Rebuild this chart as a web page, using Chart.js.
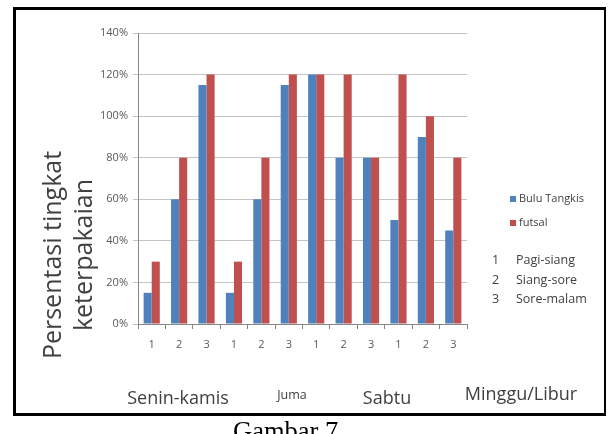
<!DOCTYPE html>
<html>
<head>
<meta charset="utf-8">
<script src="https://cdn.jsdelivr.net/npm/chart.js@4/dist/chart.umd.min.js"></script>
<style>
  html, body { margin:0; padding:0; background:#fff; }
  body { width:611px; height:434px; position:relative; overflow:hidden; font-family:"Open Sans", sans-serif; }
  #c { position:absolute; left:0; top:0; }
  .frame { position:absolute; left:13px; top:7px; width:588px; height:403px; border:3px solid #000; border-right-width:2px; }
  .t { position:absolute; white-space:nowrap; color:#404040; line-height:1; }
  .ytitle { position:absolute; left:67px; top:255px; transform:translate(-50%,-50%) rotate(-90deg); text-align:center; font-size:25px; line-height:31px; color:#404040; white-space:nowrap; }
  .sq { position:absolute; width:6px; height:6px; }
  .cap { position:absolute; left:233px; top:418px; font-family:"Liberation Serif", serif; font-size:26.5px; line-height:1; color:#000; white-space:nowrap; }
</style>
</head>
<body>
<canvas id="c" width="611" height="434"></canvas>
<div class="frame"></div>
<div id="overlay"></div>
<script>
// ---- data ----
const categories = ["1","2","3","1","2","3","1","2","3","1","2","3"];
const seriesNames = ["Bulu Tangkis", "futsal"];
const buluTangkis = [15, 60, 115, 15, 60, 115, 120, 80, 80, 50, 90, 45];
const futsal      = [30, 80, 120, 30, 80, 120, 120, 120, 80, 120, 100, 80];
const yTicks = [0, 20, 40, 60, 80, 100, 120, 140];
const groupLabels = ["Senin-kamis", "Juma", "Sabtu", "Minggu/Libur"];
const keyNumbers = ["1", "2", "3"];
const keyLabels = ["Pagi-siang", "Siang-sore", "Sore-malam"];
const yTitleLines = ["Persentasi tingkat", "keterpakaian"];
const caption = "Gambar 7";

const colors = ["#4F81BD", "#C0504D"];

new Chart(document.getElementById('c'), {
  type: 'bar',
  data: {
    labels: categories,
    datasets: [
      { label: seriesNames[0], data: buluTangkis, backgroundColor: colors[0] },
      { label: seriesNames[1], data: futsal, backgroundColor: colors[1] }
    ]
  },
  options: {
    responsive: false,
    animation: false,
    devicePixelRatio: 1,
    layout: { padding: { top: 33, left: 0, right: 144, bottom: 0 } },
    categoryPercentage: 0.59,
    barPercentage: 1.0,
    plugins: { legend: { display: false }, tooltip: { enabled: false } },
    scales: {
      x: {
        afterFit: s => { s.height = 110; },
        grid: { display: true, drawOnChartArea: false, drawTicks: true, tickLength: 5, color: '#868686', offset: true },
        border: { color: '#868686' },
        ticks: { color: '#595959', font: { family: 'Open Sans', size: 11 }, padding: 9 }
      },
      y: {
        min: 0, max: 140,
        afterFit: s => { s.width = 138; },
        afterBuildTicks: s => { s.ticks = yTicks.map(v => ({ value: v })); },
        grid: { color: '#C4C4C4', tickLength: 5 },
        border: { color: '#868686' },
        ticks: { color: '#595959', font: { family: 'Open Sans', size: 11 }, padding: 5, callback: v => v + '%' }
      }
    }
  }
});

// ---- overlay text ----
const ov = document.getElementById('overlay');
function add(html, cls, style) {
  const d = document.createElement('div');
  d.className = cls; d.innerHTML = html; Object.assign(d.style, style); ov.appendChild(d); return d;
}
add(yTitleLines.join('<br>'), 'ytitle', {});
// legend
seriesNames.forEach((n, i) => {
  const y = 199 + i * 24;
  add('', 'sq', { left: '510px', top: (y - 3) + 'px', background: colors[i] });
  add(n, 't', { left: '519px', top: (y - 7) + 'px', fontSize: '11px' });
});
// key
keyNumbers.forEach((k, i) => {
  const y = 262 + i * 19.5;
  add(k, 't', { left: '492px', top: (y - 8) + 'px', fontSize: '12.5px' });
  add(keyLabels[i], 't', { left: '516px', top: (y - 8) + 'px', fontSize: '12.5px' });
});
// group labels
const gl = [
  { x: 178, y: 397, s: 18 },
  { x: 292, y: 395, s: 12.5 },
  { x: 387, y: 397, s: 18 },
  { x: 521, y: 393, s: 18 }
];
groupLabels.forEach((g, i) => {
  const p = gl[i];
  add(g, 't', { left: p.x + 'px', top: p.y + 'px', fontSize: p.s + 'px', transform: 'translate(-50%,-50%)' });
});
add(caption, 'cap', {});
</script>
</body>
</html>
